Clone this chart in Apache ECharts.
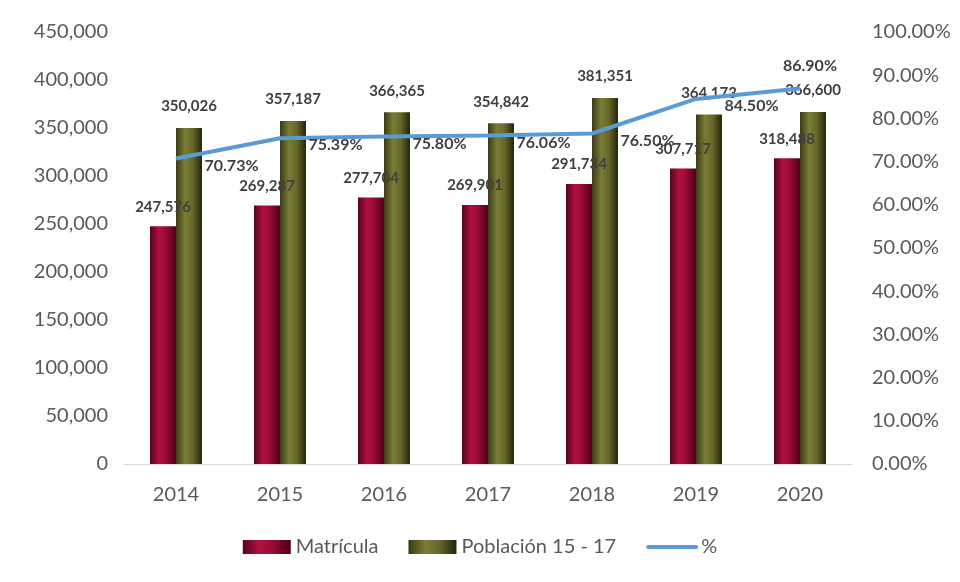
<!DOCTYPE html>
<html>
<head>
<meta charset="utf-8">
<script src="https://cdn.jsdelivr.net/npm/echarts@6/dist/echarts.min.js"></script>
<style>html,body{margin:0;padding:0;background:#fff}#c{width:960px;height:582px}</style>
</head>
<body>
<div id="c"></div>
<script>
const years = ['2014','2015','2016','2017','2018','2019','2020'];
const matricula = [247576, 269287, 277704, 269901, 291734, 307717, 318488];
const poblacion = [350026, 357187, 366365, 354842, 381351, 364173, 366600];
const porcentaje = [70.73, 75.39, 75.80, 76.06, 76.50, 84.50, 86.90];

const FONT = 'Lato, "Open Sans", sans-serif';
const fmtNum = v => v.toLocaleString('en-US');

const chart = echarts.init(document.getElementById('c'));
const gradRed = new echarts.graphic.LinearGradient(0,0,1,0,[
  {offset:0,color:'#5a0020'},{offset:0.35,color:'#b0123f'},{offset:0.6,color:'#9a0c36'},{offset:1,color:'#4a0018'}]);
const gradOlive = new echarts.graphic.LinearGradient(0,0,1,0,[
  {offset:0,color:'#3a3a14'},{offset:0.35,color:'#7c7c36'},{offset:0.65,color:'#66662a'},{offset:1,color:'#24240c'}]);

chart.setOption({
  backgroundColor:'#ffffff',
  animation:false,
  textStyle:{fontFamily:FONT},
  grid:{left:124,right:108,top:32,bottom:118,containLabel:false},
  legend:{
    bottom:20,left:'center',itemWidth:48,itemHeight:14,itemGap:30,
    textStyle:{fontSize:20,color:'#595959',fontFamily:FONT},
    data:[{name:'Matrícula',icon:'rect'},{name:'Población 15 - 17',icon:'rect'},
          {name:'%',itemStyle:{opacity:0},lineStyle:{width:4,cap:'round',color:'#5b9bd5'}}]
  },
  xAxis:{
    type:'category',data:years,
    axisLine:{lineStyle:{color:'#d9d9d9'}},axisTick:{show:false},
    axisLabel:{fontSize:20,color:'#595959',margin:21,fontFamily:FONT}
  },
  yAxis:[
    {type:'value',min:0,max:450000,interval:50000,
     splitLine:{show:false},axisLine:{show:false},axisTick:{show:false},
     axisLabel:{fontSize:20,color:'#595959',margin:16,formatter:fmtNum,fontFamily:FONT}},
    {type:'value',min:0,max:100,interval:10,
     splitLine:{show:false},axisLine:{show:false},axisTick:{show:false},
     axisLabel:{fontSize:20,color:'#595959',margin:20,formatter:v=>v.toFixed(2)+'%',fontFamily:FONT}}
  ],
  series:[
    {name:'Matrícula',type:'bar',data:matricula,barWidth:26,barGap:'0%',
     itemStyle:{color:gradRed},
     label:{show:true,position:'top',distance:12,fontSize:15,fontWeight:'bold',color:'#404040',formatter:p=>fmtNum(p.value),fontFamily:FONT}},
    {name:'Población 15 - 17',type:'bar',data:poblacion,barWidth:26,barGap:'0%',
     itemStyle:{color:gradOlive},
     label:{show:true,position:'top',distance:14,fontSize:15,fontWeight:'bold',color:'#404040',formatter:p=>fmtNum(p.value),fontFamily:FONT}},
    {name:'%',type:'line',yAxisIndex:1,
     data:porcentaje.map((v,i)=> i===porcentaje.length-1 ? {value:v,label:{position:'top',distance:14,offset:[10,0]}} : v),
     symbol:'circle',symbolSize:1,showSymbol:true,smooth:false,
     lineStyle:{color:'#5b9bd5',width:4},itemStyle:{color:'#5b9bd5'},
     label:{show:true,position:'right',distance:28,offset:[0,7],fontSize:16,fontWeight:'bold',color:'#404040',formatter:p=>p.value.toFixed(2)+'%',fontFamily:FONT}}
  ]
});
</script>
</body>
</html>
